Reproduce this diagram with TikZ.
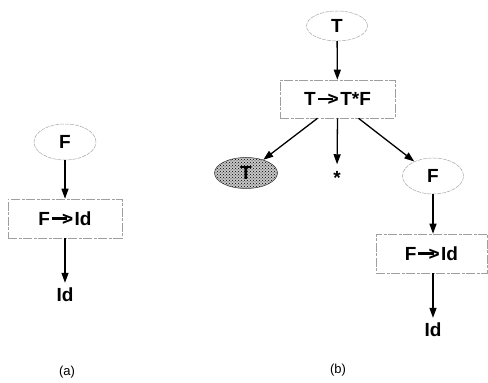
\documentclass[tikz,border=0pt]{standalone}
\usepackage{fontspec}
\setmainfont{Liberation Sans}
\usetikzlibrary{shapes.geometric,arrows.meta,patterns}

% production arrow: a shaft ending in a ">" chevron
\newcommand{\prodarrow}{\kern0.1em\rule[0.29em]{0.8em}{0.12em}\kern-0.27em>\kern0.08em}

\tikzset{
  sym/.style={ellipse, draw=gray!70, line width=0.5pt,
    dash pattern=on 4pt off 1pt, inner sep=0pt,
    font=\fontsize{19}{22}\selectfont\bfseries},
  rule/.style={rectangle, draw=gray!75, line width=0.6pt,
    dash pattern=on 9pt off 1.5pt on 3pt off 1.5pt, inner sep=0pt,
    font=\fontsize{19}{22}\selectfont\bfseries},
  leaf/.style={inner sep=0pt, font=\fontsize{19}{22}\selectfont\bfseries},
  sublabel/.style={inner sep=0pt, font=\fontsize{13}{15}\selectfont},
  arr/.style={line width=1.3pt, -{Triangle[length=10pt,width=7pt]}},
}

\begin{document}
\begin{tikzpicture}[x=1pt,y=1pt]
\useasboundingbox (0,0) rectangle (488,383);

% (a) derivation F -> Id
\node[sym, minimum width=62pt, minimum height=36pt] (Fa) at (65,241) {F};
\node[rule, minimum width=114pt, minimum height=39pt] (Ra) at (65,164.5) {F\prodarrow Id};
\node[leaf] (Ida) at (65,88) {Id};
\node[sublabel] (la) at (67,11) {(a)};

\draw[arr] (Fa) -- (Ra);
\draw[arr, shorten >=5pt] (Ra) -- (Ida);

% (b) derivation T -> T*F
\node[sym, minimum width=61pt, minimum height=30pt] (Tb) at (337,357) {T};
\node[rule, minimum width=115pt, minimum height=38pt] (Rb) at (337.5,284) {T\prodarrow T*F};
\node[sym, draw=black!80, solid, preaction={fill=gray!45}, pattern=crosshatch dots,
      pattern color=black, minimum width=63pt, minimum height=31pt] (Tl) at (246,210) {T};
\node[leaf] (St) at (337,205) {*};
\node[sym, minimum width=61pt, minimum height=36pt] (Fb) at (433,207) {F};
\node[rule, minimum width=111pt, minimum height=39pt] (Rc) at (431.5,129.5) {F\prodarrow Id};
\node[leaf] (Idb) at (433,53) {Id};
\node[sublabel] (lb) at (338,13) {(b)};

\draw[arr] (Tb) -- (Rb);
\draw[arr] ([xshift=-20pt]Rb.south) -- (Tl);
\draw[arr, shorten >=7pt] (Rb.south) -- (St.north);
\draw[arr] ([xshift=21pt]Rb.south) -- (Fb);
\draw[arr] (Fb) -- (Rc.north -| Fb);
\draw[arr, shorten >=5pt] (Rc.south -| Idb) -- (Idb);
\end{tikzpicture}
\end{document}
